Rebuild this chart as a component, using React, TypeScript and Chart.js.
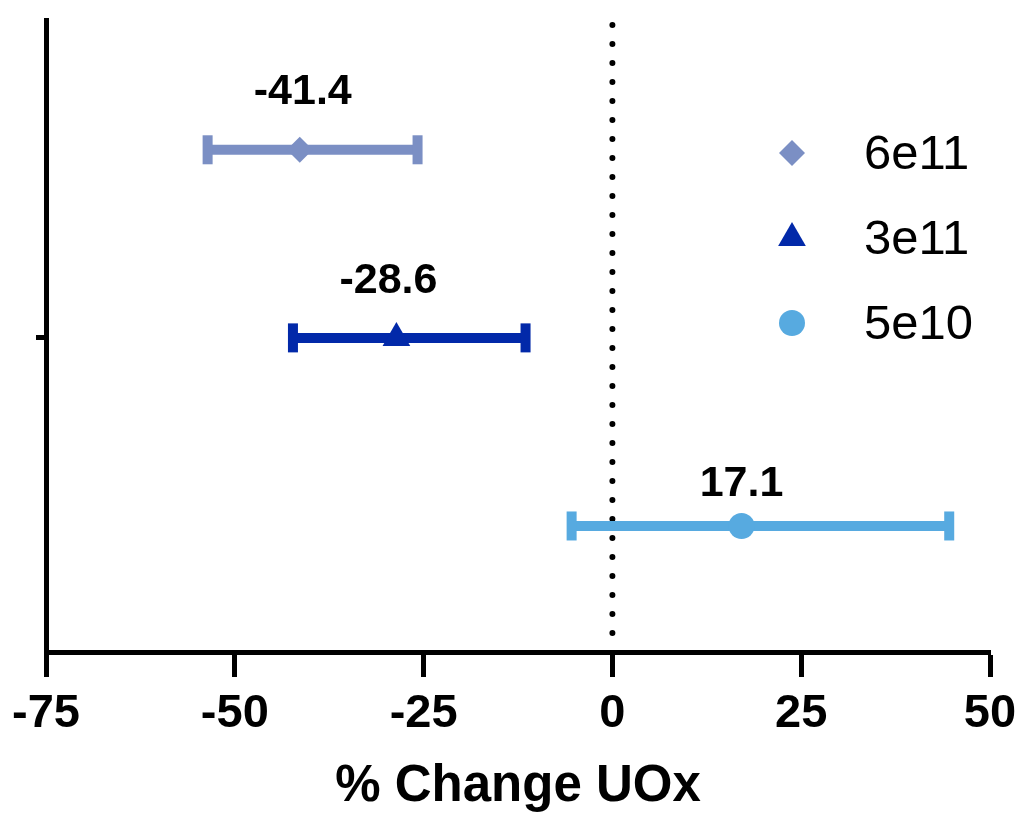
import React, { useEffect, useRef } from 'react';
import { Chart, registerables } from 'chart.js';
import { drawPoint } from 'chart.js/helpers';

Chart.register(...registerables);

// ---- data ----
const seriesNames = ['6e11', '3e11', '5e10'];
const means = [-41.4, -28.6, 17.1];
const lowers = [-53.6, -42.3, -5.4];
const uppers = [-25.8, -11.5, 44.6];
const rows = [3, 2, 1];
const xTickValues = [-75, -50, -25, 0, 25, 50];
const yTickValues = [2];
const xTitle = '% Change UOx';

// ---- styles ----
const colors = ['#7B8FC4', '#0229A9', '#57AAE0'];
const pointStyles = ['rectRot', 'triangle', 'circle'];
const pointRadii = [13, 16, 13];
const labelDx = [3, -8, 0];
const labelDy = [-58, -57, -42];
const FONT = "'Liberation Sans', Arial, Helvetica, sans-serif";

const errorBarPlugin = {
  id: 'errorBars',
  beforeDatasetsDraw(chart: any) {
    const { ctx, scales, chartArea } = chart;
    const xs = scales.x;
    const ys = scales.y;
    ctx.save();
    // zero reference dotted line
    const zx = xs.getPixelForValue(0);
    ctx.strokeStyle = '#000';
    ctx.lineWidth = 6;
    ctx.lineCap = 'round';
    ctx.setLineDash([0, 19]);
    ctx.beginPath();
    ctx.moveTo(zx, chartArea.top + 5);
    ctx.lineTo(zx, chartArea.bottom);
    ctx.stroke();
    ctx.setLineDash([]);
    ctx.lineCap = 'butt';
    // error bars
    for (let i = 0; i < means.length; i++) {
      const y = ys.getPixelForValue(rows[i]);
      const x1 = xs.getPixelForValue(lowers[i]);
      const x2 = xs.getPixelForValue(uppers[i]);
      ctx.strokeStyle = colors[i];
      ctx.fillStyle = colors[i];
      ctx.lineWidth = 10;
      ctx.beginPath();
      ctx.moveTo(x1, y);
      ctx.lineTo(x2, y);
      ctx.stroke();
      ctx.fillRect(x1 - 5, y - 14.5, 10, 29);
      ctx.fillRect(x2 - 5, y - 14.5, 10, 29);
    }
    ctx.restore();
  },
  afterDatasetsDraw(chart: any) {
    const { ctx, scales } = chart;
    ctx.save();
    ctx.fillStyle = '#000';
    ctx.font = `bold 43px ${FONT}`;
    ctx.textAlign = 'center';
    ctx.textBaseline = 'middle';
    for (let i = 0; i < means.length; i++) {
      const x = scales.x.getPixelForValue(means[i]);
      const y = scales.y.getPixelForValue(rows[i]);
      ctx.fillText(means[i].toFixed(1), x + labelDx[i], y + labelDy[i]);
    }
    // legend
    const lx = 792;
    const ly0 = 153;
    const lstep = 85;
    ctx.font = `49px ${FONT}`;
    ctx.textAlign = 'left';
    for (let i = 0; i < seriesNames.length; i++) {
      const y = ly0 + i * lstep;
      ctx.fillStyle = colors[i];
      ctx.strokeStyle = colors[i];
      drawPoint(ctx, { pointStyle: pointStyles[i], radius: pointRadii[i], borderWidth: 0, rotation: 0 }, lx, y);
      ctx.fillStyle = '#000';
      ctx.fillText(seriesNames[i], 864, y + 2);
    }
    ctx.restore();
  },
};

export default function App() {
  const ref = useRef<HTMLCanvasElement | null>(null);
  useEffect(() => {
    if (!ref.current) return;
    const chart = new Chart(ref.current, {
      type: 'scatter',
      data: {
        datasets: seriesNames.map((name, i) => ({
          label: name,
          data: [{ x: means[i], y: rows[i] }],
          pointStyle: pointStyles[i] as any,
          pointRadius: pointRadii[i],
          pointHoverRadius: pointRadii[i],
          backgroundColor: colors[i],
          borderColor: colors[i],
          borderWidth: 0,
        })),
      },
      options: {
        responsive: false,
        animation: false,
        events: [],
        layout: { padding: { top: 20, right: 36, left: 0, bottom: 0 } },
        plugins: { legend: { display: false }, tooltip: { enabled: false } },
        scales: {
          x: {
            type: 'linear',
            min: -75,
            max: 50,
            afterBuildTicks: (s: any) => {
              s.ticks = xTickValues.map((v) => ({ value: v }));
            },
            afterFit: (s: any) => {
              s.height = 170;
            },
            ticks: {
              color: '#000',
              font: { family: FONT, size: 47, weight: 'bold' },
              padding: 9,
              maxRotation: 0,
              autoSkip: false,
            },
            grid: {
              drawOnChartArea: false,
              drawTicks: true,
              tickLength: 25,
              tickWidth: 5,
              tickColor: '#000',
            },
            border: { display: true, color: '#000', width: 5 },
            title: {
              display: true,
              text: xTitle,
              color: '#000',
              font: { family: FONT, size: 51, weight: 'bold' },
              padding: { top: 0, bottom: 4 },
            },
          },
          y: {
            type: 'linear',
            min: 0.33,
            max: 3.69,
            afterBuildTicks: (s: any) => {
              s.ticks = yTickValues.map((v) => ({ value: v }));
            },
            afterFit: (s: any) => {
              s.width = 46;
            },
            ticks: { callback: () => '', padding: 0 },
            grid: {
              drawOnChartArea: false,
              drawTicks: true,
              tickLength: 10,
              tickWidth: 5,
              tickColor: '#000',
            },
            border: { display: true, color: '#000', width: 5 },
          },
        },
      },
      plugins: [errorBarPlugin],
    } as any);
    return () => chart.destroy();
  }, []);
  return (
    <div style={{ position: 'absolute', left: 0, top: 0, width: 1026, height: 822, background: '#fff' }}>
      <canvas ref={ref} width={1026} height={822} style={{ width: 1026, height: 822, display: 'block' }} />
    </div>
  );
}
